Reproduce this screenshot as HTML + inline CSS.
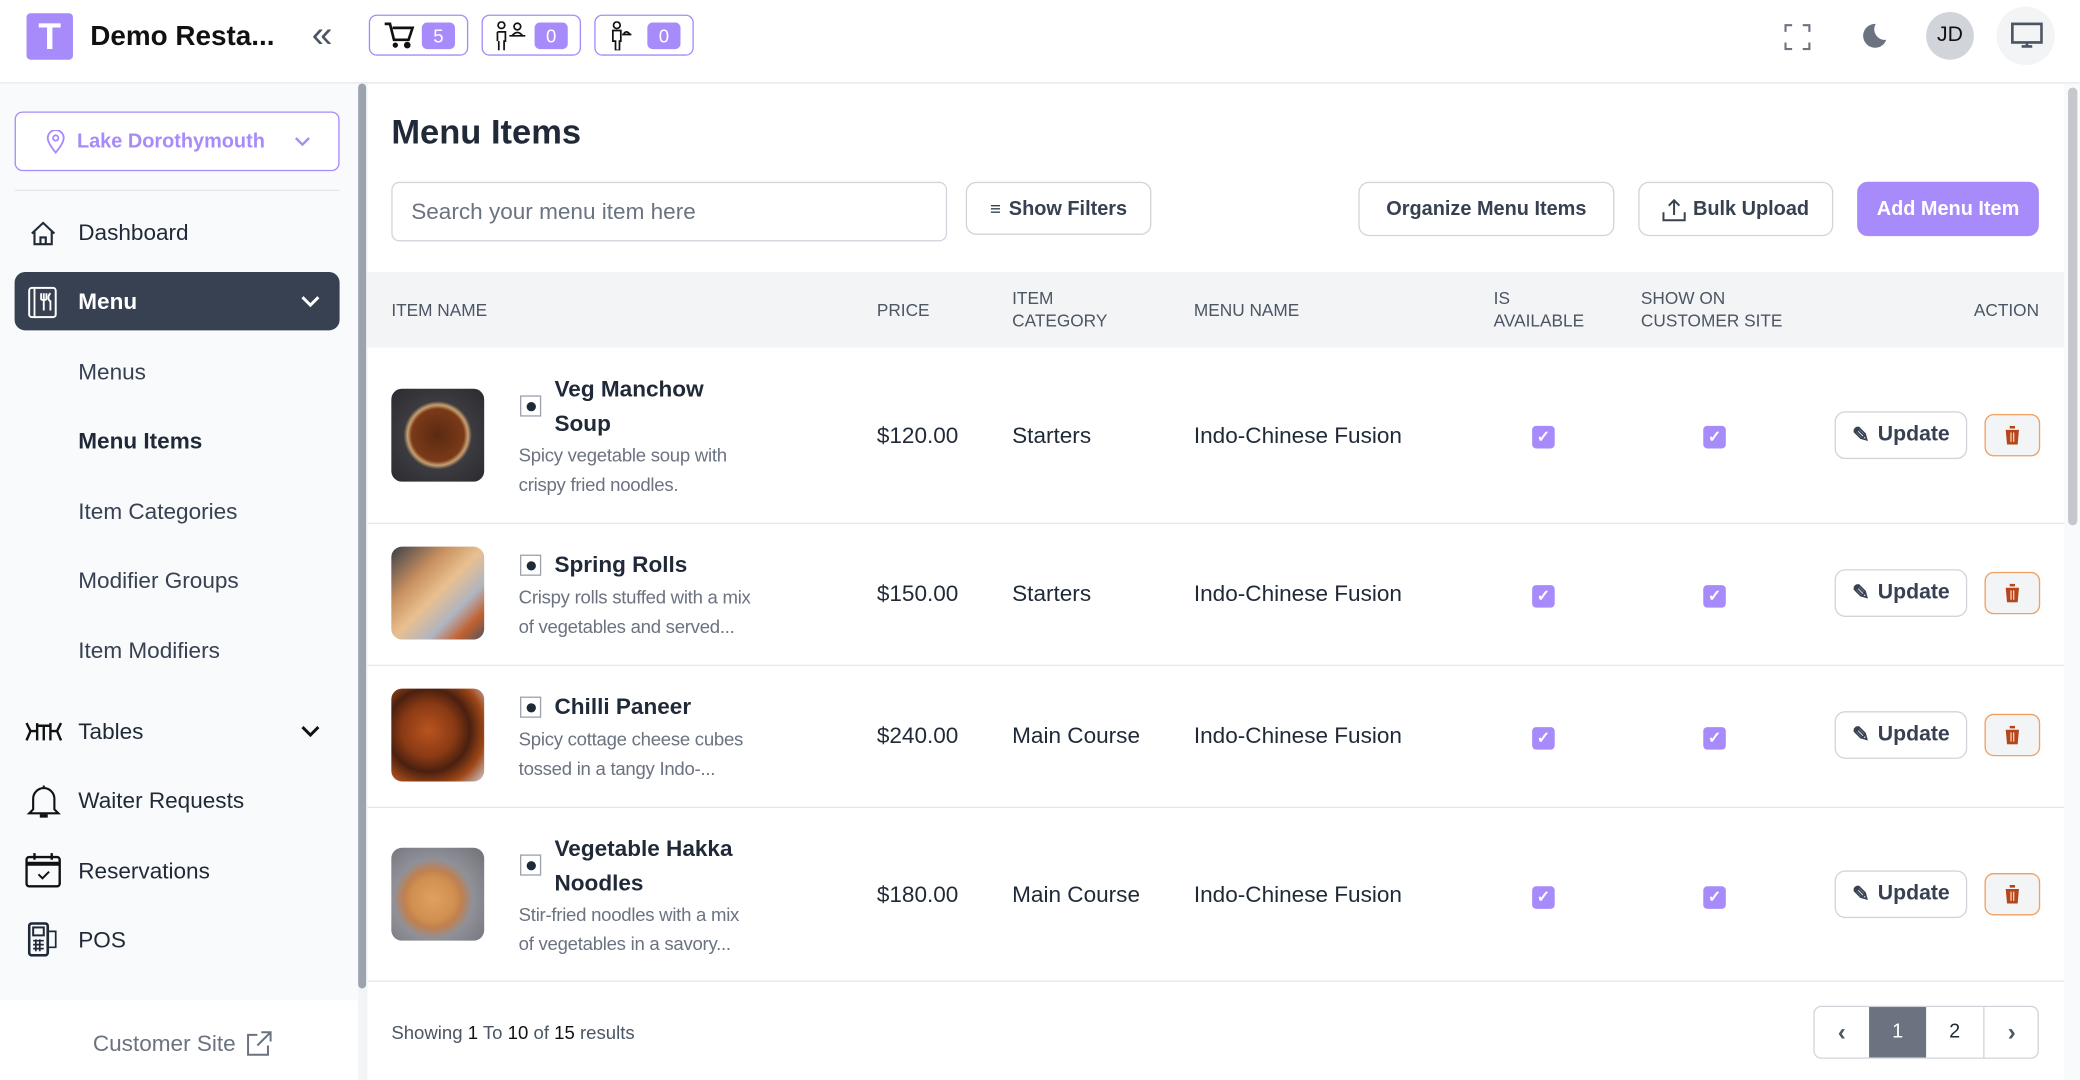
<!DOCTYPE html>
<html><head><meta charset="utf-8"><style>
*{margin:0;padding:0;box-sizing:border-box}
html,body{width:2080px;height:1080px;overflow:hidden;background:#fff}
#w{position:absolute;left:0;top:0;width:1568px;height:814px;transform:scale(1.32653,1.32678);transform-origin:0 0;font-family:"Liberation Sans",sans-serif;color:#1f2937}
.a{position:absolute;white-space:nowrap}
.nav{font-size:17px;color:#1f2937;line-height:20px}
.sub{font-size:17px;color:#374151;line-height:20px}
.btn{border:1px solid #d1d5db;border-radius:8px;background:#fff;font-size:15px;font-weight:bold;color:#374151;display:flex;align-items:center;justify-content:center}
.hd{font-size:13px;color:#4b5563;line-height:17px}
.cell{font-size:17px;color:#1f2937;line-height:20px}
.nm{font-size:17px;font-weight:bold;color:#1f2937;line-height:26px}
.ds{font-size:14px;color:#6b7280;line-height:22px;letter-spacing:-0.2px}
.img{width:70px;height:70px;border-radius:8px}
.veg{width:16px;height:16px;border:1px solid #9ca3af;background:#fff}
.veg:after{content:"";position:absolute;left:4px;top:4px;width:7px;height:7px;border-radius:50%;background:#1f2937}
.cb{width:17px;height:17px;border-radius:3px;background:#a78bfa;color:#fff;font-size:12px;line-height:17px;text-align:center;font-weight:bold}
.up{width:100px;height:36px;border:1px solid #d1d5db;border-radius:8px;background:#fff;font-size:16px;font-weight:bold;color:#374151;display:flex;align-items:center;justify-content:center;gap:6px}
.del{width:42px;height:32px;border:1.5px solid #f0a060;border-radius:7px;background:#f3f4f6;display:flex;align-items:center;justify-content:center}
.badge{height:31px;width:75px;border:1.5px solid #a78bfa;border-radius:6px;background:#fff}
.pill{position:absolute;right:9px;top:5px;width:25px;height:20px;background:#a78bfa;border-radius:4px;color:#fff;font-size:14px;text-align:center;line-height:20px}
.line{height:1px;background:#e5e7eb}
</style></head><body><div id="w">

<div class="a" style="left:20px;top:10px;width:35px;height:35px;background:#a78bfa;border-radius:3px;color:#fff;font-size:28px;font-weight:bold;text-align:center;line-height:35px">T</div>
<div class="a" style="left:68px;top:15px;font-size:21px;font-weight:bold;color:#111;line-height:26px">Demo Resta...</div>
<div class="a" style="left:235px;top:11px;font-size:28px;color:#4b5563;line-height:30px">«</div>
<div class="a badge" style="left:278px;top:11px"><svg class="a" style="left:10px;top:4px" width="24" height="22" viewBox="0 0 24 22"><path d="M1 2h4l3 12h11l3-9H7" fill="none" stroke="#111" stroke-width="2"/><circle cx="9" cy="18" r="2" fill="#111"/><circle cx="18" cy="18" r="2.5" fill="#111"/></svg><div class="pill">5</div></div>
<div class="a badge" style="left:363px;top:11px"><svg class="a" style="left:8px;top:4px" width="26" height="22" viewBox="0 0 26 22"><circle cx="6" cy="3" r="2.5" fill="none" stroke="#111" stroke-width="1.3"/><path d="M3 8h6v7H8v7M4 15v7M3 8v7" fill="none" stroke="#111" stroke-width="1.3"/><circle cx="18" cy="4" r="2.5" fill="none" stroke="#111" stroke-width="1.3"/><path d="M12 11h12M14 11q4-5 8 0" fill="none" stroke="#111" stroke-width="1.3"/></svg><div class="pill">0</div></div>
<div class="a badge" style="left:448px;top:11px"><svg class="a" style="left:10px;top:4px" width="20" height="22" viewBox="0 0 20 22"><circle cx="6" cy="3" r="2.5" fill="none" stroke="#111" stroke-width="1.3"/><path d="M3 7h6v8H8v7H5v-7H3z" fill="none" stroke="#111" stroke-width="1.3"/><path d="M10 10h7M11 10q2-4 5 0" fill="none" stroke="#111" stroke-width="1.3"/></svg><div class="pill">0</div></div>
<svg class="a" style="left:1345px;top:18px" width="20" height="20" viewBox="0 0 20 20"><path d="M1 6V1h5M14 1h5v5M19 14v5h-5M6 19H1v-5" fill="none" stroke="#6b7280" stroke-width="1.6"/></svg>
<svg class="a" style="left:1403px;top:17px" width="20" height="20" viewBox="0 0 20 20"><path d="M11 1a9 9 0 1 0 8 12A8 8 0 0 1 11 1z" fill="#6b7280"/></svg>
<div class="a" style="left:1452px;top:9px;width:36px;height:36px;border-radius:50%;background:#d1d5db;font-size:16px;text-align:center;line-height:36px;color:#111">JD</div>
<div class="a" style="left:1505px;top:5px;width:44px;height:44px;border-radius:50%;background:#f3f4f6"></div>
<svg class="a" style="left:1516px;top:17px" width="24" height="20" viewBox="0 0 24 20"><rect x="1" y="1" width="22" height="14" fill="none" stroke="#4b5563" stroke-width="2"/><path d="M8 18h8M12 15v3" stroke="#4b5563" stroke-width="2"/></svg>
<div class="a line" style="left:0;top:62px;width:1568px"></div>

<div class="a" style="left:0;top:63px;width:270px;height:691px;background:#f9fafb"></div>
<div class="a" style="left:270px;top:63px;width:7px;height:751px;background:#f3f4f6"></div>
<div class="a" style="left:270px;top:63px;width:6px;height:682px;background:#9ca3af;border-radius:3px"></div>
<div class="a" style="left:11px;top:84px;width:245px;height:45px;border:1px solid #a78bfa;border-radius:6px;background:#fff"></div>
<svg class="a" style="left:35px;top:98px" width="14" height="18" viewBox="0 0 14 18"><path d="M7 17C2 11 1 8 1 6a6 6 0 0 1 12 0c0 2-1 5-6 11z" fill="none" stroke="#a78bfa" stroke-width="1.4"/><circle cx="7" cy="6" r="2" fill="none" stroke="#a78bfa" stroke-width="1.4"/></svg>
<div class="a" style="left:58px;top:97px;font-size:15px;font-weight:bold;color:#a78bfa;line-height:20px">Lake Dorothymouth</div>
<svg class="a" style="left:222px;top:103px" width="12" height="8" viewBox="0 0 12 8"><path d="M1 1l5 5 5-5" fill="none" stroke="#a78bfa" stroke-width="1.8"/></svg>
<div class="a line" style="left:11px;top:143px;width:245px"></div>
<svg class="a" style="left:22px;top:166px" width="21" height="20" viewBox="0 0 21 20"><path d="M2 10L10.5 2 19 10M4 8v10h13V8M8.5 18v-5h4v5" fill="none" stroke="#1f2937" stroke-width="1.6"/></svg>
<div class="a nav" style="left:59px;top:166px">Dashboard</div>
<div class="a" style="left:11px;top:205px;width:245px;height:44px;background:#374151;border-radius:8px"></div>
<svg class="a" style="left:21px;top:216px" width="22" height="24" viewBox="0 0 22 24"><rect x="1" y="1" width="20" height="22" rx="2" fill="none" stroke="#fff" stroke-width="1.5"/><path d="M5 1v22M10 5v5M12 5v13M14 5v5M10 10h4M17 5c-2 2-2 5 0 6v7" fill="none" stroke="#fff" stroke-width="1.4"/></svg>
<div class="a nav" style="left:59px;top:218px;color:#fff;font-weight:bold">Menu</div>
<svg class="a" style="left:227px;top:223px" width="14" height="9" viewBox="0 0 14 9"><path d="M1 1l6 6 6-6" fill="none" stroke="#fff" stroke-width="2.2"/></svg>
<div class="a sub" style="left:59px;top:271px">Menus</div>
<div class="a sub" style="left:59px;top:323px;font-weight:bold;color:#1f2937">Menu Items</div>
<div class="a sub" style="left:59px;top:376px">Item Categories</div>
<div class="a sub" style="left:59px;top:428px">Modifier Groups</div>
<div class="a sub" style="left:59px;top:481px">Item Modifiers</div>
<svg class="a" style="left:19px;top:544px" width="28" height="15" viewBox="0 0 28 15"><path d="M1 1l3 6-3 7M4 7h5M9 1v13M9 3h10M14 3v11M19 1v13M19 7h5l3-6M24 7l3 7" fill="none" stroke="#111" stroke-width="1.8"/></svg>
<div class="a nav" style="left:59px;top:542px">Tables</div>
<svg class="a" style="left:227px;top:547px" width="14" height="9" viewBox="0 0 14 9"><path d="M1 1l6 6 6-6" fill="none" stroke="#111" stroke-width="2.2"/></svg>
<svg class="a" style="left:20px;top:590px" width="26" height="28" viewBox="0 0 26 28"><path d="M13 2v2M5 20V12a8 8 0 0 1 16 0v8l3 3H2z" fill="none" stroke="#111" stroke-width="1.6"/><path d="M10 25h6" stroke="#111" stroke-width="2.5"/></svg>
<div class="a nav" style="left:59px;top:594px">Waiter Requests</div>
<svg class="a" style="left:19px;top:642px" width="27" height="27" viewBox="0 0 27 27"><rect x="1" y="4" width="25" height="22" rx="2" fill="none" stroke="#111" stroke-width="1.8"/><path d="M1 9h25" stroke="#111" stroke-width="3"/><path d="M7 1v5M20 1v5" stroke="#111" stroke-width="1.8"/><path d="M10 17l3 3 5-5" fill="none" stroke="#111" stroke-width="1.5"/></svg>
<div class="a nav" style="left:59px;top:647px">Reservations</div>
<svg class="a" style="left:21px;top:695px" width="22" height="26" viewBox="0 0 22 26"><rect x="1" y="1" width="14" height="24" rx="2" fill="none" stroke="#1f2937" stroke-width="2"/><rect x="4" y="4" width="8" height="6" fill="none" stroke="#1f2937" stroke-width="1.5"/><path d="M4 14h8M4 17h8M4 20h8M6 13v9M9 13v9M15 7h6v12h-6" fill="none" stroke="#1f2937" stroke-width="1.3"/></svg>
<div class="a nav" style="left:59px;top:699px">POS</div>
<div class="a" style="left:70px;top:777px;font-size:17px;color:#6b7280;line-height:20px">Customer Site</div>
<svg class="a" style="left:186px;top:777px" width="19" height="19" viewBox="0 0 19 19"><path d="M8 3H1v15h15v-7M11 1h7v7M18 1L8 11" fill="none" stroke="#6b7280" stroke-width="1.5"/></svg>

<div class="a" style="left:1556px;top:63px;width:12px;height:751px;background:#f9fafb"></div>
<div class="a" style="left:1559px;top:66px;width:7px;height:330px;background:#c4c7cc;border-radius:4px"></div>
<div class="a" style="left:295px;top:84px;font-size:26px;font-weight:bold;color:#1f2937;line-height:30px">Menu Items</div>
<div class="a" style="left:295px;top:137px;width:419px;height:45px;border:1px solid #d1d5db;border-radius:6px;background:#fff"></div>
<div class="a" style="left:310px;top:150px;font-size:17px;color:#6b7280;line-height:20px">Search your menu item here</div>
<div class="a btn" style="left:728px;top:137px;width:140px;height:40px"><span style="font-size:14px;font-weight:normal;margin-right:6px">≡</span>Show Filters</div>
<div class="a btn" style="left:1024px;top:137px;width:193px;height:41px">Organize Menu Items</div>
<div class="a btn" style="left:1235px;top:137px;width:147px;height:41px"><svg width="18" height="18" viewBox="0 0 18 18" style="margin-right:5px"><path d="M9 13V2M5 6l4-4 4 4M1 11v6h16v-6" fill="none" stroke="#374151" stroke-width="1.5"/></svg>Bulk Upload</div>
<div class="a btn" style="left:1400px;top:137px;width:137px;height:41px;background:#a78bfa;border-color:#a78bfa;color:#fff">Add Menu Item</div>

<div class="a" style="left:277px;top:205px;width:1279px;height:57px;background:#f3f4f6"></div>
<div class="a hd" style="left:295px;top:225px">ITEM NAME</div>
<div class="a hd" style="left:661px;top:225px">PRICE</div>
<div class="a hd" style="left:763px;top:216px">ITEM<br>CATEGORY</div>
<div class="a hd" style="left:900px;top:225px">MENU NAME</div>
<div class="a hd" style="left:1126px;top:216px">IS<br>AVAILABLE</div>
<div class="a hd" style="left:1237px;top:216px">SHOW ON<br>CUSTOMER SITE</div>
<div class="a hd" style="left:1488px;top:225px">ACTION</div>

<div class="a line" style="left:277px;top:394px;width:1279px"></div>
<div class="a line" style="left:277px;top:501px;width:1279px"></div>
<div class="a line" style="left:277px;top:608px;width:1279px"></div>
<div class="a line" style="left:277px;top:739px;width:1279px"></div>

<div class="a img" style="left:295px;top:293px;background:radial-gradient(circle at 50% 50%,#5a2a12 0,#7a3a18 40%,#c8a070 46%,#3b3b40 52%,#2a2a30 100%)"></div>
<div class="a veg" style="left:392px;top:298px"></div>
<div class="a nm" style="left:418px;top:281px">Veg Manchow<br>Soup</div>
<div class="a ds" style="left:391px;top:332px">Spicy vegetable soup with<br>crispy fried noodles.</div>
<div class="a cell" style="left:661px;top:319px">$120.00</div>
<div class="a cell" style="left:763px;top:319px">Starters</div>
<div class="a cell" style="left:900px;top:319px">Indo-Chinese Fusion</div>
<div class="a cb" style="left:1155px;top:321px">✓</div>
<div class="a cb" style="left:1284px;top:321px">✓</div>
<div class="a up" style="left:1383px;top:310px"><span>✎</span>Update</div>
<div class="a del" style="left:1496px;top:312px"><svg width="12" height="14" viewBox="0 0 12 14"><path d="M0 2h12M4 2V0h4v2M1 3h10l-1 11H2z" fill="#b5451b"/><path d="M5 5v7M7 5v7" stroke="#f3d0b8" stroke-width="1"/></svg></div>

<div class="a img" style="left:295px;top:412px;background:linear-gradient(135deg,#3a3f4a 0,#c89060 30%,#e8c090 50%,#b0b4c0 70%,#c06030 85%,#505560 100%)"></div>
<div class="a veg" style="left:392px;top:418px"></div>
<div class="a nm" style="left:418px;top:413px">Spring Rolls</div>
<div class="a ds" style="left:391px;top:439px">Crispy rolls stuffed with a mix<br>of vegetables and served...</div>
<div class="a cell" style="left:661px;top:438px">$150.00</div>
<div class="a cell" style="left:763px;top:438px">Starters</div>
<div class="a cell" style="left:900px;top:438px">Indo-Chinese Fusion</div>
<div class="a cb" style="left:1155px;top:441px">✓</div>
<div class="a cb" style="left:1284px;top:441px">✓</div>
<div class="a up" style="left:1383px;top:429px"><span>✎</span>Update</div>
<div class="a del" style="left:1496px;top:431px"><svg width="12" height="14" viewBox="0 0 12 14"><path d="M0 2h12M4 2V0h4v2M1 3h10l-1 11H2z" fill="#b5451b"/><path d="M5 5v7M7 5v7" stroke="#f3d0b8" stroke-width="1"/></svg></div>

<div class="a img" style="left:295px;top:519px;background:radial-gradient(circle at 40% 45%,#b8541e 0,#8a3a14 35%,#4a2010 55%,#a04818 75%,#d0d0d8 100%)"></div>
<div class="a veg" style="left:392px;top:525px"></div>
<div class="a nm" style="left:418px;top:520px">Chilli Paneer</div>
<div class="a ds" style="left:391px;top:546px">Spicy cottage cheese cubes<br>tossed in a tangy Indo-...</div>
<div class="a cell" style="left:661px;top:545px">$240.00</div>
<div class="a cell" style="left:763px;top:545px">Main Course</div>
<div class="a cell" style="left:900px;top:545px">Indo-Chinese Fusion</div>
<div class="a cb" style="left:1155px;top:548px">✓</div>
<div class="a cb" style="left:1284px;top:548px">✓</div>
<div class="a up" style="left:1383px;top:536px"><span>✎</span>Update</div>
<div class="a del" style="left:1496px;top:538px"><svg width="12" height="14" viewBox="0 0 12 14"><path d="M0 2h12M4 2V0h4v2M1 3h10l-1 11H2z" fill="#b5451b"/><path d="M5 5v7M7 5v7" stroke="#f3d0b8" stroke-width="1"/></svg></div>

<div class="a img" style="left:295px;top:639px;background:radial-gradient(circle at 45% 55%,#e0a060 0,#d09050 30%,#c08050 40%,#909098 55%,#707078 100%)"></div>
<div class="a veg" style="left:392px;top:644px"></div>
<div class="a nm" style="left:418px;top:627px">Vegetable Hakka<br>Noodles</div>
<div class="a ds" style="left:391px;top:678px">Stir-fried noodles with a mix<br>of vegetables in a savory...</div>
<div class="a cell" style="left:661px;top:665px">$180.00</div>
<div class="a cell" style="left:763px;top:665px">Main Course</div>
<div class="a cell" style="left:900px;top:665px">Indo-Chinese Fusion</div>
<div class="a cb" style="left:1155px;top:668px">✓</div>
<div class="a cb" style="left:1284px;top:668px">✓</div>
<div class="a up" style="left:1383px;top:656px"><span>✎</span>Update</div>
<div class="a del" style="left:1496px;top:658px"><svg width="12" height="14" viewBox="0 0 12 14"><path d="M0 2h12M4 2V0h4v2M1 3h10l-1 11H2z" fill="#b5451b"/><path d="M5 5v7M7 5v7" stroke="#f3d0b8" stroke-width="1"/></svg></div>

<div class="a" style="left:295px;top:769px;font-size:14px;color:#4b5563;line-height:18px">Showing <span style="color:#111">1</span> To <span style="color:#111">10</span> of <span style="color:#111">15</span> results</div>
<div class="a" style="left:1367px;top:758px;width:170px;height:40px;border:1px solid #d1d5db;border-radius:6px;background:#fff;overflow:hidden">
 <div class="a" style="left:0;top:0;width:41px;height:38px;text-align:center;line-height:38px;font-size:18px;color:#4b5563;font-weight:bold">‹</div>
 <div class="a" style="left:41px;top:0;width:43px;height:38px;background:#6b7280;color:#fff;text-align:center;line-height:38px;font-size:15px">1</div>
 <div class="a" style="left:84px;top:0;width:44px;height:38px;text-align:center;line-height:38px;font-size:15px;color:#1f2937;border-right:1px solid #d1d5db">2</div>
 <div class="a" style="left:128px;top:0;width:41px;height:38px;text-align:center;line-height:38px;font-size:18px;color:#4b5563;font-weight:bold">›</div>
</div>
</div></body></html>
